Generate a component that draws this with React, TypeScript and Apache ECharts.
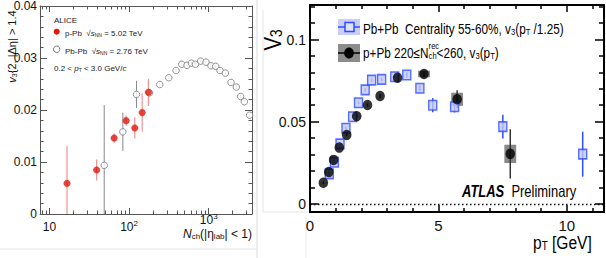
import React, { useEffect, useRef } from 'react';
import * as echarts from 'echarts';

// ---------- Left panel (ALICE) ----------
const alicePPbN = [16.6, 39.1, 64.9, 91.8, 118, 146, 175];
const alicePPbV3 = [0.0059, 0.00846, 0.0146, 0.01795, 0.01654, 0.0195, 0.0234];
const alicePPbErr = [0.0072, 0.002, 0.0009, 0.001, 0.002, 0.0037, 0.0026];

const alicePbPbN = [48.7, 83.5, 124, 180, 243, 315, 389, 459, 534, 607, 681, 794, 925, 1069, 1224, 1387, 1619, 1905, 2224, 2519, 2805, 3266];
const alicePbPbV3 = [0.00936, 0.0158, 0.023, 0.0233, 0.0249, 0.0262, 0.0276, 0.0288, 0.0286, 0.029, 0.0288, 0.0294, 0.0292, 0.0285, 0.0284, 0.0276, 0.0271, 0.0253, 0.0244, 0.0226, 0.0216, 0.019];
const alicePbPbErr = [0.0116, 0.0037, 0.0026, 0.0004, 0.0004, 0.0003, 0.0003, 0.0003, 0.0003, 0.0003, 0.0003, 0.0003, 0.0003, 0.0003, 0.0003, 0.0003, 0.0003, 0.0003, 0.0003, 0.0003, 0.0003, 0.0003];

const leftMajorX = [10, 100, 1000];
const leftMinorX = [8, 9, 20, 30, 40, 50, 60, 70, 80, 90, 200, 300, 400, 500, 600, 700, 800, 900, 2000, 3000];

// ---------- Right panel (ATLAS) ----------
const atlasPbPbPt = [0.75, 0.95, 1.17, 1.4, 1.66, 1.89, 2.15, 2.4, 2.79, 3.3, 3.77, 4.28, 4.78, 5.63, 7.51, 10.62];
const atlasPbPbV3 = [0.0182, 0.0253, 0.0365, 0.046, 0.053, 0.0615, 0.0693, 0.0753, 0.0757, 0.0773, 0.0784, 0.0703, 0.06, 0.0591, 0.047, 0.0302];
const atlasPbPbErr = [0.001, 0.001, 0.001, 0.001, 0.001, 0.001, 0.001, 0.001, 0.001, 0.001, 0.0015, 0.002, 0.0043, 0.0035, 0.0072, 0.0137];

const atlasPPbPt = [0.52, 0.73, 0.92, 1.14, 1.43, 1.82, 2.24, 2.73, 3.41, 4.44, 5.73, 7.8];
const atlasPPbV3 = [0.0128, 0.0193, 0.0267, 0.0342, 0.0419, 0.0533, 0.0601, 0.0656, 0.0767, 0.079, 0.0636, 0.0304];
const atlasPPbErr = [0.0008, 0.0008, 0.0008, 0.0008, 0.0008, 0.001, 0.001, 0.0012, 0.0015, 0.002, 0.0055, 0.015];
const atlasPPbSys = [0, 0, 0, 0, 0, 0, 0, 0, 0, 0.002, 0.004, 0.0055];

const rightMajorX = [0, 5, 10];
const rightMinorX = [1, 2, 3, 4, 6, 7, 8, 9, 11];
const rightMajorY = [0, 0.05, 0.1];
const rightMinorY = [0.01, 0.02, 0.03, 0.04, 0.06, 0.07, 0.08, 0.09, 0.11, 0.12];

const SANS = "'Liberation Sans', Arial, Helvetica, sans-serif";

function gRich(fs: number, fam: string, fill = '#111', lh = fs + 2) {
  const s = Math.round(fs * 0.65);
  return {
    n: { fontSize: fs, fontFamily: fam, fill, verticalAlign: 'bottom', lineHeight: lh },
    i: { fontSize: fs, fontFamily: fam, fill, fontStyle: 'italic', verticalAlign: 'bottom', lineHeight: lh },
    b: { fontSize: fs, fontFamily: fam, fill, fontStyle: 'italic', fontWeight: 'bold', verticalAlign: 'bottom', lineHeight: lh },
    sub: { fontSize: s, fontFamily: fam, fill, verticalAlign: 'bottom', lineHeight: s },
    sup: { fontSize: s, fontFamily: fam, fill, verticalAlign: 'top', lineHeight: s },
    rec: { fontSize: s, fontFamily: fam, fill, verticalAlign: 'top', lineHeight: fs + 5, width: 0 },
  };
}

function errBar(color: string, width: number) {
  return (params: any, api: any) => {
    const x = api.value(0);
    const p1 = api.coord([x, api.value(1)]);
    const p2 = api.coord([x, api.value(2)]);
    return {
      type: 'line',
      shape: { x1: p1[0], y1: p1[1], x2: p2[0], y2: p2[1] },
      style: { stroke: color, lineWidth: width },
    };
  };
}

function tickAxis(base: any, position: string, values: number[], len: number, opts: any = {}) {
  return {
    ...base,
    position,
    axisLine: { show: opts.line !== false, onZero: false, lineStyle: { color: opts.color || '#000', width: opts.lineWidth || 1 } },
    axisTick: { show: true, inside: true, length: len, customValues: values, lineStyle: { color: opts.color || '#000', width: opts.tickWidth || 1 } },
    axisLabel: opts.label ? opts.label : { show: false },
    splitLine: { show: false },
  };
}

export default function App() {
  const ref = useRef<HTMLDivElement>(null);
  useEffect(() => {
    const chart = echarts.init(ref.current!, null, { renderer: 'svg' });

    const lx = { type: 'log', gridIndex: 0, min: 7.6, max: 3500, logBase: 10 };
    const rx = { type: 'value', gridIndex: 1, min: 0, max: 11.45 };
    const ry = { type: 'value', gridIndex: 1, min: -0.005, max: 0.121 };
    const LC = '#555';

    const option: any = {
      animation: false,
      backgroundColor: '#fff',
      grid: [
        { left: 40, top: 6, width: 212, height: 208 },
        { left: 310, top: 5, width: 294, height: 207 },
      ],
      xAxis: [
        tickAxis(lx, 'bottom', leftMajorX, 6, {
          color: LC,
          label: {
            show: true,
            customValues: leftMajorX,
            margin: 0,
            formatter: (v: number) => {
              const e = Math.round(Math.log10(v));
              if (e === 1) return '{lo|10}';
              if (e === 2) return '{lo|10}{slo|' + e + '}';
              return '{hi|10}{shi|' + e + '}';
            },
            rich: {
              lo: { fontSize: 12, fontFamily: SANS, color: '#111', verticalAlign: 'bottom', lineHeight: 19 },
              slo: { fontSize: 8, fontFamily: SANS, color: '#111', verticalAlign: 'bottom', lineHeight: 8, padding: [0, 0, 6, 0] },
              hi: { fontSize: 12, fontFamily: SANS, color: '#111', verticalAlign: 'bottom', lineHeight: 12 },
              shi: { fontSize: 8, fontFamily: SANS, color: '#111', verticalAlign: 'bottom', lineHeight: 8, padding: [0, 0, 6, 0] },
            },
          },
        }),
        tickAxis(lx, 'bottom', leftMinorX, 3.5, { color: LC, line: false }),
        tickAxis(lx, 'top', leftMajorX, 6, { color: LC }),
        tickAxis(lx, 'top', leftMinorX, 3.5, { color: LC, line: false }),
        tickAxis(rx, 'bottom', rightMajorX, 7, {
          lineWidth: 2, tickWidth: 1.5,
          label: {
            show: true, customValues: rightMajorX, margin: 6, fontSize: 15, fontFamily: SANS, color: '#111',
          },
        }),
        tickAxis(rx, 'bottom', rightMinorX, 4, { line: false, tickWidth: 1.5 }),
        tickAxis(rx, 'top', rightMajorX, 7, { lineWidth: 2, tickWidth: 1.5 }),
        tickAxis(rx, 'top', rightMinorX, 4, { line: false, tickWidth: 1.5 }),
      ],
      yAxis: [
        {
          type: 'value', gridIndex: 0, min: 0, max: 0.04, interval: 0.01, position: 'left',
          axisLine: { show: true, onZero: false, lineStyle: { color: LC, width: 1 } },
          axisTick: { show: true, inside: true, length: 7, lineStyle: { color: LC } },
          minorTick: { show: true, splitNumber: 5, length: 3.5, lineStyle: { color: LC } },
          axisLabel: {
            show: true, margin: 3, fontSize: 12, fontFamily: SANS, color: '#111',
            formatter: (v: number) => (v === 0 ? '0' : v.toFixed(2)),
          },
          splitLine: { show: false }, minorSplitLine: { show: false },
        },
        {
          type: 'value', gridIndex: 0, min: 0, max: 0.04, interval: 0.01, position: 'right',
          axisLine: { show: true, onZero: false, lineStyle: { color: LC, width: 1 } },
          axisTick: { show: true, inside: true, length: 7, lineStyle: { color: LC } },
          minorTick: { show: true, splitNumber: 5, length: 3.5, lineStyle: { color: LC } },
          axisLabel: { show: false },
          splitLine: { show: false }, minorSplitLine: { show: false },
        },
        tickAxis(ry, 'left', rightMajorY, 9, {
          lineWidth: 2, tickWidth: 1.5,
          label: {
            show: true, customValues: rightMajorY, margin: 4, fontSize: 14, fontFamily: SANS, color: '#111',
            formatter: (v: number) => (v === 0 ? '0' : String(+v.toFixed(2))),
          },
        }),
        tickAxis(ry, 'left', rightMinorY, 5, { line: false, tickWidth: 1.5 }),
        tickAxis(ry, 'right', rightMajorY, 9, { lineWidth: 2, tickWidth: 1.5 }),
        tickAxis(ry, 'right', rightMinorY, 5, { line: false, tickWidth: 1.5 }),
      ],
      series: [
        // ----- left panel -----
        {
          type: 'custom', xAxisIndex: 0, yAxisIndex: 0, clip: true,
          encode: { x: 0, y: [1, 2] },
          data: alicePbPbN.map((n, i) => [n, alicePbPbV3[i] - alicePbPbErr[i], alicePbPbV3[i] + alicePbPbErr[i]]),
          renderItem: errBar('#8a8a8a', 1),
        },
        {
          type: 'scatter', xAxisIndex: 0, yAxisIndex: 0, symbol: 'circle', symbolSize: 6.5,
          data: alicePbPbN.map((n, i) => [n, alicePbPbV3[i]]),
          itemStyle: { color: '#fff', borderColor: '#777', borderWidth: 1 },
        },
        {
          type: 'custom', xAxisIndex: 0, yAxisIndex: 0, clip: true,
          encode: { x: 0, y: [1, 2] },
          data: alicePPbN.map((n, i) => [n, alicePPbV3[i] - alicePPbErr[i], alicePPbV3[i] + alicePPbErr[i]]),
          renderItem: errBar('rgba(235,110,110,0.75)', 1.2),
        },
        {
          type: 'scatter', xAxisIndex: 0, yAxisIndex: 0, symbol: 'circle', symbolSize: 6.5,
          data: alicePPbN.map((n, i) => [n, alicePPbV3[i]]),
          itemStyle: { color: '#e3180c', borderColor: '#c41408', borderWidth: 0.5 },
        },
        // ----- right panel -----
        {
          type: 'custom', xAxisIndex: 4, yAxisIndex: 2, clip: true,
          encode: { x: 0, y: [1, 2] },
          data: atlasPPbPt.map((p, i) => [p, atlasPPbV3[i] - atlasPPbSys[i], atlasPPbV3[i] + atlasPPbSys[i]]),
          renderItem: (params: any, api: any) => {
            const x = api.value(0);
            const lo = api.value(1);
            const hi = api.value(2);
            if (hi - lo <= 0) return null;
            const a = api.coord([x - 0.23, hi]);
            const b = api.coord([x + 0.23, lo]);
            return {
              type: 'rect',
              shape: { x: a[0], y: a[1], width: b[0] - a[0], height: b[1] - a[1] },
              style: { fill: 'rgba(115,115,115,0.85)' },
            };
          },
        },
        {
          type: 'custom', xAxisIndex: 4, yAxisIndex: 2, clip: true,
          encode: { x: 0, y: [1, 2] },
          data: atlasPbPbPt.map((p, i) => [p, atlasPbPbV3[i] - atlasPbPbErr[i], atlasPbPbV3[i] + atlasPbPbErr[i]]),
          renderItem: errBar('#2f4dff', 1.5),
        },
        {
          type: 'scatter', xAxisIndex: 4, yAxisIndex: 2, symbol: 'rect', symbolSize: [8, 9.5],
          data: atlasPbPbPt.map((p, i) => [p, atlasPbPbV3[i]]),
          itemStyle: { color: '#c3c8f7', borderColor: '#2f4dff', borderWidth: 1.5 },
          markLine: {
            silent: true, symbol: ['none', 'none'], label: { show: false },
            lineStyle: { color: '#000', width: 1.3, type: [1.5, 2.5] },
            data: [{ yAxis: 0 }],
          },
        },
        {
          type: 'custom', xAxisIndex: 4, yAxisIndex: 2, clip: true,
          encode: { x: 0, y: [1, 2] },
          data: atlasPPbPt.map((p, i) => [p, atlasPPbV3[i] - atlasPPbErr[i], atlasPPbV3[i] + atlasPPbErr[i]]),
          renderItem: errBar('#333', 1.5),
        },
        {
          type: 'scatter', xAxisIndex: 4, yAxisIndex: 2, symbol: 'circle', symbolSize: [9.5, 10.5],
          data: atlasPPbPt.map((p, i) => [p, atlasPPbV3[i]]),
          itemStyle: { color: '#000' },
        },
      ],
      graphic: [
        // frame decorations
        { type: 'line', shape: { x1: 257, y1: 0, x2: 257, y2: 258 }, style: { stroke: '#dcdcdc', lineWidth: 1 } },
        { type: 'line', shape: { x1: 0, y1: 249, x2: 257, y2: 249 }, style: { stroke: '#e4e4e4', lineWidth: 1 } },
        { type: 'polyline', shape: { points: [[263, 10], [263, 212], [309, 212]] }, style: { stroke: '#e6e6e6', fill: null, lineWidth: 1 } },
        { type: 'line', shape: { x1: 306, y1: 217, x2: 306, y2: 258 }, style: { stroke: '#e8e8e8', lineWidth: 1 } },
        // left y title
        {
          type: 'text', x: 11, y: 46.5, rotation: Math.PI / 2,
          style: {
            text: '{i|v}{sub|3}{n|{2, |Δη| > 1.4}', fontSize: 11, fontFamily: SANS, fill: '#111',
            align: 'center', verticalAlign: 'middle', rich: gRich(11, SANS),
          },
        },
        // left x title
        {
          type: 'text', x: 252, y: 234,
          style: {
            text: '{i|N}{sub|ch}{n|(|η}{sub|lab}{n|| < 1)}', fontSize: 12, fontFamily: SANS, fill: '#111',
            align: 'right', verticalAlign: 'middle', rich: gRich(12, SANS, '#111', 12),
          },
        },
        // ALICE legend
        { type: 'text', x: 54, y: 20, style: { text: 'ALICE', fontSize: 8, fontFamily: SANS, fill: '#222', align: 'left', verticalAlign: 'middle' } },
        { type: 'circle', shape: { cx: 56.7, cy: 31.7, r: 3 }, style: { fill: '#e3180c' } },
        {
          type: 'text', x: 65, y: 32,
          style: {
            text: '{n|p-Pb  √}{i|s}{sub|NN}{n| = 5.02 TeV}', fontSize: 8, fontFamily: SANS, fill: '#222',
            align: 'left', verticalAlign: 'middle', rich: gRich(8, SANS, '#222'),
          },
        },
        { type: 'circle', shape: { cx: 56.7, cy: 49.3, r: 3.2 }, style: { fill: '#fff', stroke: '#777', lineWidth: 1 } },
        {
          type: 'text', x: 65, y: 50,
          style: {
            text: '{n|Pb-Pb  √}{i|s}{sub|NN}{n| = 2.76 TeV}', fontSize: 8, fontFamily: SANS, fill: '#222',
            align: 'left', verticalAlign: 'middle', rich: gRich(8, SANS, '#222'),
          },
        },
        {
          type: 'text', x: 54, y: 67,
          style: {
            text: '{n|0.2 < }{i|p}{sub|T}{n| < 3.0 GeV/}{i|c}', fontSize: 8, fontFamily: SANS, fill: '#222',
            align: 'left', verticalAlign: 'middle', rich: gRich(8, SANS, '#222'),
          },
        },
        // right y title
        {
          type: 'text', x: 272, y: 40, rotation: Math.PI / 2, scaleX: 0.85,
          style: {
            text: '{n|V}{sub|3}', fontSize: 24, fontFamily: SANS, fill: '#000',
            align: 'center', verticalAlign: 'middle', rich: gRich(24, SANS, '#000'),
          },
        },
        // right x title
        {
          type: 'text', x: 533, y: 241, scaleX: 0.82,
          style: {
            text: '{n|p}{sub|T}{n| [GeV]}', fontSize: 19, fontFamily: SANS, fill: '#000',
            align: 'left', verticalAlign: 'middle', rich: gRich(19, SANS, '#000'),
          },
        },
        // ATLAS legend
        { type: 'rect', shape: { x: 338, y: 19, width: 22, height: 16 }, style: { fill: '#c9cdf7' } },
        { type: 'line', shape: { x1: 338, y1: 27, x2: 360, y2: 27 }, style: { stroke: '#2f4dff', lineWidth: 1.5 } },
        { type: 'rect', shape: { x: 345, y: 22.5, width: 9, height: 9 }, style: { fill: '#dfe2fb', stroke: '#2f4dff', lineWidth: 1.5 } },
        {
          type: 'text', x: 363, y: 28, scaleX: 0.84,
          style: {
            text: '{n|Pb+Pb  Centrality 55-60%, v}{sub|3}{n|(p}{sub|T}{n| /1.25)}', fontSize: 14, fontFamily: SANS, fill: '#000',
            align: 'left', verticalAlign: 'middle', rich: gRich(14, SANS, '#000'),
          },
        },
        { type: 'rect', shape: { x: 338, y: 44, width: 22, height: 18 }, style: { fill: '#8c8c8c' } },
        { type: 'line', shape: { x1: 338, y1: 53, x2: 360, y2: 53 }, style: { stroke: '#000', lineWidth: 1.5 } },
        { type: 'ellipse', shape: { cx: 349, cy: 53, rx: 4.8, ry: 5.5 }, style: { fill: '#000' } },
        {
          type: 'text', x: 363, y: 51, scaleX: 0.84,
          style: {
            text: '{n|p+Pb 220≤N}{rec|rec}{sub|ch}{n|<260, v}{sub|3}{n|(p}{sub|T}{n|)}', fontSize: 14, fontFamily: SANS, fill: '#000',
            align: 'left', verticalAlign: 'middle', rich: gRich(14, SANS, '#000'),
          },
        },
        // ATLAS Preliminary
        {
          type: 'text', x: 462, y: 190, scaleX: 0.81,
          style: {
            text: '{b|ATLAS}{n|  Preliminary}', fontSize: 16, fontFamily: SANS, fill: '#000',
            align: 'left', verticalAlign: 'middle', rich: gRich(16, SANS, '#000'),
          },
        },
      ],
    };

    chart.setOption(option);
    return () => chart.dispose();
  }, []);
  return (
    <div
      ref={ref}
      style={{ position: 'absolute', left: 0, top: 0, width: 606, height: 258, background: '#fff' }}
    />
  );
}
